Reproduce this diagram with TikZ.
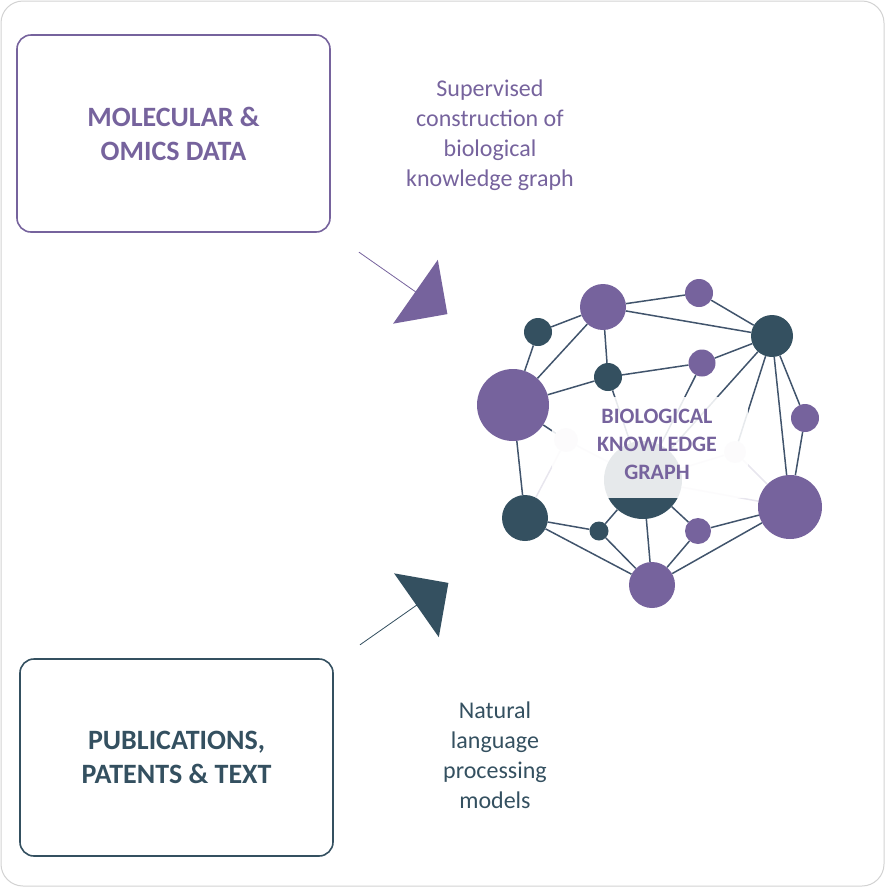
\documentclass[tikz,border=0pt]{standalone}
\usepackage{fontspec}
\setmainfont{Carlito}
\usetikzlibrary{shapes.arrows,backgrounds}
\definecolor{kgpurple}{RGB}{118,99,157}
\definecolor{kgdark}{RGB}{52,80,96}
\definecolor{kgframe}{RGB}{210,210,210}
\definecolor{kgfade}{RGB}{232,230,238}

\begin{document}
\begin{tikzpicture}[x=1pt,y=-1pt]
    % Define styles
    \tikzset{
      box/.style={draw, line width=1.6pt, rounded corners=14pt, minimum width=313pt, minimum height=197pt, align=center, font=\fontsize{28}{34}\selectfont\bfseries},
      caption/.style={align=center, font=\fontsize{24}{30}\selectfont},
      pnode/.style={circle, fill=kgpurple, inner sep=0pt},
      dnode/.style={circle, fill=kgdark, inner sep=0pt},
      lnode/.style={circle, fill=kgfade, inner sep=0pt},
      edge/.style={draw=kgdark!80!kgpurple, line width=1.5pt},
      fedge/.style={draw=kgfade, line width=1.5pt},
      bigarrow/.style={single arrow, inner sep=0pt, minimum height=108pt, minimum width=78pt, single arrow head extend=19pt}
    }
    \useasboundingbox (0,0) rectangle (885,887);
    \draw[kgframe, line width=1pt, rounded corners=22pt] (1,1) rectangle (884,886);

    % Input boxes
    \node[box, draw=kgpurple, text=kgpurple] (omics) at (173.5,133.5) {MOLECULAR \&\\OMICS DATA};
    \node[box, draw=kgdark, text=kgdark] (pubs) at (176.5,757.5) {PUBLICATIONS,\\PATENTS \& TEXT};

    % Captions
    \node[caption, text=kgpurple] (supervised) at (490,135) {Supervised\\construction of\\biological\\knowledge graph};
    \node[caption, text=kgdark] (nlp) at (495,755) {Natural\\language\\processing\\models};

    % Block arrows
    \node[bigarrow, fill=kgpurple, rotate=-35] (arrowtop) at (403,283) {};
    \node[bigarrow, fill=kgdark, rotate=35] (arrowbot) at (404,614) {};

    % Graph nodes
    \node[pnode, minimum size=46pt] (p1) at (603,307) {};
    \node[pnode, minimum size=28pt] (p2) at (699,293) {};
    \node[dnode, minimum size=42pt] (d1) at (772,336) {};
    \node[dnode, minimum size=28pt] (d2) at (538,332) {};
    \node[dnode, minimum size=28pt] (d3) at (608,377) {};
    \node[pnode, minimum size=27pt] (p3) at (702,363) {};
    \node[pnode, minimum size=72pt] (p4) at (513,405) {};
    \node[pnode, minimum size=28pt] (p5) at (805,418) {};
    \node[lnode, minimum size=24pt] (l1) at (566,440) {};
    \node[lnode, minimum size=22pt] (l2) at (735,452) {};
    \node[dnode, minimum size=78pt] (c) at (643,480) {};
    \node[pnode, minimum size=64pt] (p6) at (790,507) {};
    \node[dnode, minimum size=46pt] (d4) at (525,518) {};
    \node[dnode, minimum size=19pt] (d5) at (599,531) {};
    \node[pnode, minimum size=26pt] (p7) at (698,531) {};
    \node[pnode, minimum size=46pt] (p8) at (652,585) {};

    % Graph edges
    \begin{scope}[on background layer]
      \foreach \a/\b in {p1/p2, p1/d1, p2/d1, d2/p1, d2/p4, p4/p1, p1/d3, d3/p4, d3/p3, p3/d1,
                         d1/p5, d1/p6, p5/p6, p4/d4, p4/l1, d4/d5, d4/p8, d5/c, d5/p8, c/p8,
                         c/p7, p7/p8, p7/p6, p6/p8, d1/c, d1/l2, p3/c, d3/c}
        \draw[edge] (\a) -- (\b);
      \foreach \a/\b in {l1/d4, l1/c, l2/c, l2/p6, c/p6}
        \draw[fedge] (\a) -- (\b);
    \end{scope}

    % Faded label area
    \fill[white, opacity=0.88] (552,397) rectangle (748,498);
    \node[text=kgpurple, align=center, font=\fontsize{22}{28}\selectfont\bfseries] (kg) at (657,444) {BIOLOGICAL\\KNOWLEDGE\\GRAPH};
\end{tikzpicture}
\end{document}
